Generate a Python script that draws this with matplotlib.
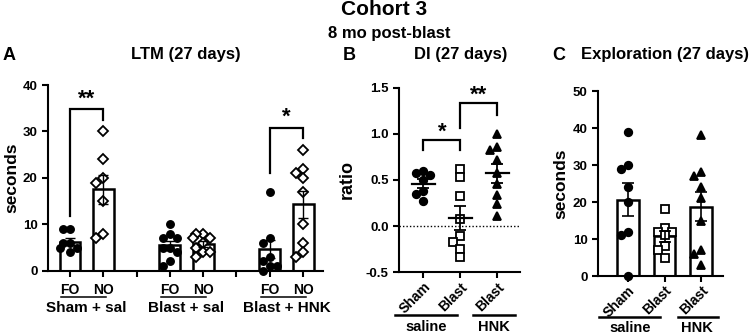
import numpy as np
import matplotlib
matplotlib.use("Agg")
import matplotlib.pyplot as plt

plt.rcParams['font.family'] = ['Liberation Sans', 'DejaVu Sans']
plt.rcParams['font.weight'] = 'bold'

# ---- panel A: LTM (27 days), seconds at familiar / novel object
ltm_tick_labels = ['FO', 'NO', '', 'FO', 'NO', '', 'FO', 'NO']
ltm_groups = ['Sham + sal', 'Blast + sal', 'Blast + HNK']
sham_sal_fo = [9, 9, 6, 6, 5, 5, 4]
sham_sal_no = [30, 24, 20, 19, 15, 8, 7]
blast_sal_fo = [10, 8, 7, 7, 5, 5, 4, 2, 1]
blast_sal_no = [8, 8, 7, 7, 6, 5, 4, 4, 3]
blast_hnk_fo = [17, 7, 6, 3, 2, 1, 1, 0]
blast_hnk_no = [26, 22, 21, 20, 17, 10, 6, 4, 3]

# ---- panel B: DI (27 days), ratio
di_labels = ['Sham', 'Blast', 'Blast']
di_sham = [0.60, 0.58, 0.55, 0.50, 0.38, 0.35, 0.27]
di_blast = [0.62, 0.53, 0.33, 0.08, -0.11, -0.17, -0.25, -0.33]
di_hnk = [1.00, 0.86, 0.83, 0.72, 0.58, 0.46, 0.34, 0.24, 0.11]

# ---- panel C: Exploration (27 days), seconds
ex_labels = ['Sham', 'Blast', 'Blast']
ex_sham = [39, 30, 29, 24, 20, 12, 11, 0]
ex_blast = [18, 13, 12, 12, 11, 8, 7, 5]
ex_hnk = [38, 28, 27, 24, 21, 15, 7, 6, 3]


def sem(v):
    v = np.asarray(v, float)
    return v.std(ddof=1) / np.sqrt(len(v))


def swarm_x(ax, x0, vals, d_px, max_px):
    # simple beeswarm in pixel space so markers do not overlap too much
    vals = np.asarray(vals, float)
    pix = ax.transData.transform(np.column_stack([np.full(len(vals), x0), vals]))
    order = np.argsort(-vals)
    placed = []
    xs = np.zeros(len(vals))
    cands = [0]
    for k in range(1, 12):
        cands += [-k * d_px * 0.5, k * d_px * 0.5]
    for i in order:
        px, py = pix[i]
        best, best_c = None, 1e9
        for c in cands:
            if abs(c) > max_px:
                continue
            clash = sum(max(0, d_px - np.hypot(px + c - qx, py - qy)) for qx, qy in placed)
            if clash == 0:
                best = c
                break
            if clash < best_c:
                best_c, best = clash, c
        placed.append((px + best, py))
        xs[i] = ax.transData.inverted().transform((px + best, py))[0]
    return xs


def style(ax):
    for s in ['top', 'right']:
        ax.spines[s].set_visible(False)
    for s in ['left', 'bottom']:
        ax.spines[s].set_linewidth(1.5)
    ax.tick_params(direction='out', length=4, width=1.5, labelsize=9.5)


def bracket(ax, x1, x2, top, y1, y2, star, ystar):
    ax.plot([x1, x1, x2, x2], [y1, top, top, y2], color='black', lw=1.6,
            clip_on=False, solid_joinstyle='miter')
    ax.text((x1 + x2) / 2, ystar, star, ha='center', va='center', fontsize=16,
            fontweight='bold')


fig = plt.figure(figsize=(7.54, 3.35), dpi=100)
axA = fig.add_axes([0.0637, 0.1919, 0.3647, 0.5543])
axB = fig.add_axes([0.5292, 0.1872, 0.1605, 0.5510])
axC = fig.add_axes([0.7931, 0.1761, 0.1658, 0.5522])

# ================= A
style(axA)
axA.set_xlim(-0.66, 7.6)
axA.set_ylim(0, 40)
axA.set_yticks([0, 10, 20, 30, 40])
axA.set_xticks(range(8))
axA.set_xticklabels(ltm_tick_labels, fontsize=10)
axA.tick_params(axis='x', pad=4.5)
axA.set_ylabel('seconds', fontsize=12.5, fontweight='bold')
axA.yaxis.set_label_coords(-0.106, 0.5)

ltm_sets = [(0, sham_sal_fo, 'o'), (1, sham_sal_no, 'D'),
            (3, blast_sal_fo, 'o'), (4, blast_sal_no, 'D'),
            (6, blast_hnk_fo, 'o'), (7, blast_hnk_no, 'D')]
for x0, vals, mk in ltm_sets:
    m = np.mean(vals)
    axA.bar(x0, m, width=0.63, color='white', edgecolor='black', linewidth=1.8, zorder=2)
    xs = swarm_x(axA, x0, vals, 7, 11)
    if mk == 'o':
        axA.plot(xs, vals, 'o', ms=5.4, color='black', zorder=3, clip_on=False)
    else:
        axA.plot(xs, vals, 'D', ms=4.8, mfc='white', mec='black', mew=1.3,
                 zorder=3, clip_on=False)
    axA.errorbar(x0, m, yerr=sem(vals), color='black', lw=1, capsize=3.5,
                 capthick=1, zorder=4)

bracket(axA, 0, 1, 34.8, 11.8, 32.5, '**', 37.0)
bracket(axA, 6, 7, 30.7, 21.0, 28.6, '*', 33.0)

for g, name in enumerate(ltm_groups):
    x0 = g * 3
    axA.plot([x0 - 0.27, x0 + 1.08], [-0.14, -0.14], color='black', lw=1.1,
             transform=axA.get_xaxis_transform(), clip_on=False)
    axA.text(x0 + 0.5, -0.201, name, ha='center', va='center', fontsize=11,
             fontweight='bold', transform=axA.get_xaxis_transform())

# ================= B
style(axB)
axB.set_xlim(-0.66, 2.61)
axB.set_ylim(-0.5, 1.5)
axB.set_yticks([-0.5, 0.0, 0.5, 1.0, 1.5])
axB.set_yticklabels(['-0.5', '0.0', '0.5', '1.0', '1.5'])
axB.set_xticks(range(3))
axB.set_xticklabels(di_labels, rotation=45, ha='right', va='top',
                    rotation_mode='anchor', fontsize=10)
axB.tick_params(axis='x', pad=1.5)
axB.set_ylabel('ratio', fontsize=13, fontweight='bold')
axB.yaxis.set_label_coords(-0.36, 0.5)
axB.axhline(0, color='black', lw=1, ls=(0, (1, 1.5)), zorder=1)

di_sets = [(0, di_sham, 'o', 'black', 5.4), (1, di_blast, 's', 'white', 5.2),
           (2, di_hnk, '^', 'black', 5.4)]
for x0, vals, mk, fc, ms in di_sets:
    m = np.mean(vals)
    xs = swarm_x(axB, x0, vals, 7, 11)
    axB.plot(xs, vals, mk, ms=ms, mfc=fc, mec='black', mew=1.3, zorder=3,
             clip_on=False)
    axB.plot([x0 - 0.3, x0 + 0.3], [m, m], color='black', lw=1.6, zorder=4)
    axB.errorbar(x0, m, yerr=sem(vals), color='black', lw=1.3, capsize=4.5,
                 capthick=1.3, zorder=4)

bracket(axB, 0, 1, 0.93, 0.82, 0.82, '*', 1.02)
bracket(axB, 1, 2, 1.33, 1.06, 1.20, '**', 1.42)

axB.plot([-0.77, 0.9], [-0.231, -0.231], color='black', lw=1.8,
         transform=axB.get_xaxis_transform(), clip_on=False)
axB.plot([1.34, 2.47], [-0.231, -0.231], color='black', lw=1.8,
         transform=axB.get_xaxis_transform(), clip_on=False)
axB.text(0.07, -0.296, 'saline', ha='center', va='center', fontsize=10.5,
         fontweight='bold', transform=axB.get_xaxis_transform())
axB.text(1.9, -0.296, 'HNK', ha='center', va='center', fontsize=10.5,
         fontweight='bold', transform=axB.get_xaxis_transform())

# ================= C
style(axC)
axC.set_xlim(-0.82, 2.6)
axC.set_ylim(0, 50)
axC.set_yticks([0, 10, 20, 30, 40, 50])
axC.set_xticks(range(3))
axC.set_xticklabels(ex_labels, rotation=45, ha='right', va='top',
                    rotation_mode='anchor', fontsize=10)
axC.tick_params(axis='x', pad=1.5)
axC.set_ylabel('seconds', fontsize=12.5, fontweight='bold')
axC.yaxis.set_label_coords(-0.24, 0.5)

ex_sets = [(0, ex_sham, 'o', 'black'), (1, ex_blast, 's', 'white'),
           (2, ex_hnk, '^', 'black')]
for x0, vals, mk, fc in ex_sets:
    m = np.mean(vals)
    axC.bar(x0, m, width=0.58, color='white', edgecolor='black', linewidth=1.8, zorder=2)
    xs = swarm_x(axC, x0, vals, 7, 11)
    axC.plot(xs, vals, mk, ms=5.4, mfc=fc, mec='black', mew=1.3, zorder=3,
             clip_on=False)
    axC.errorbar(x0, m, yerr=sem(vals), color='black', lw=1.2, capsize=4,
                 capthick=1.2, zorder=4)

axC.plot([-0.79, 0.88], [-0.222, -0.222], color='black', lw=1.8,
         transform=axC.get_xaxis_transform(), clip_on=False)
axC.plot([1.37, 2.47], [-0.222, -0.222], color='black', lw=1.8,
         transform=axC.get_xaxis_transform(), clip_on=False)
axC.text(0.05, -0.281, 'saline', ha='center', va='center', fontsize=10.5,
         fontweight='bold', transform=axC.get_xaxis_transform())
axC.text(1.89, -0.281, 'HNK', ha='center', va='center', fontsize=10.5,
         fontweight='bold', transform=axC.get_xaxis_transform())

# ================= titles
fig.text(0.509, 0.972, 'Cohort 3', ha='center', va='center', fontsize=15,
         fontweight='bold')
fig.text(0.516, 0.901, '8 mo post-blast', ha='center', va='center', fontsize=12,
         fontweight='bold')
fig.text(0.247, 0.836, 'LTM (27 days)', ha='center', va='center', fontsize=12,
         fontweight='bold')
fig.text(0.611, 0.836, 'DI (27 days)', ha='center', va='center', fontsize=12,
         fontweight='bold')
fig.text(0.882, 0.836, 'Exploration (27 days)', ha='center', va='center',
         fontsize=12, fontweight='bold')
for lbl, x in [('A', 0.003), ('B', 0.455), ('C', 0.733)]:
    fig.text(x, 0.833, lbl, ha='left', va='center', fontsize=13, fontweight='bold')

fig.savefig('out.png', dpi=100)
